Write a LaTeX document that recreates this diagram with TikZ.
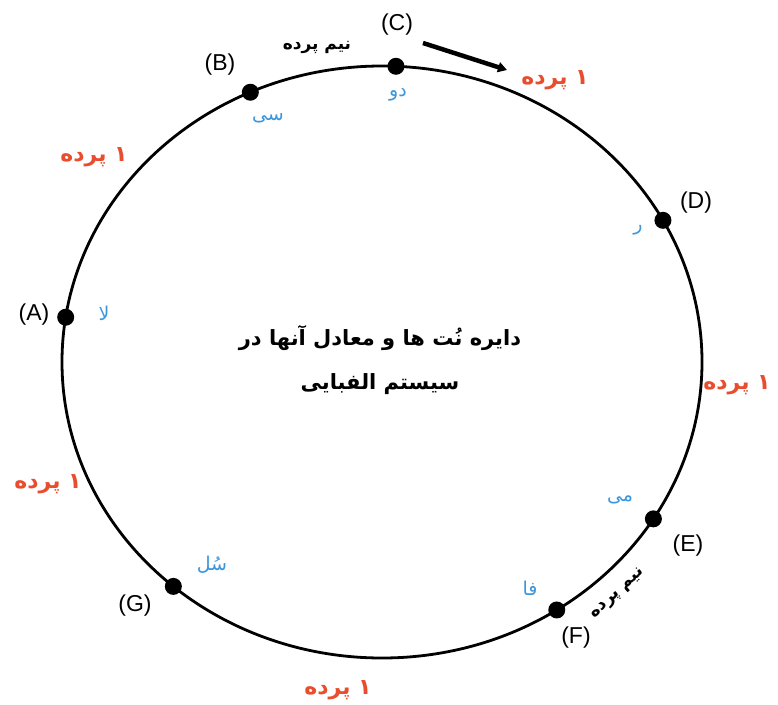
\documentclass[tikz,border=0pt]{standalone}
\usepackage{fontspec}
\setmainfont{Liberation Sans}
\newfontfamily\fa[Script=Arabic]{DejaVu Sans}
\TeXXeTstate=1
\usetikzlibrary{arrows.meta}
\definecolor{notecol}{RGB}{60,150,220}
\definecolor{stepcol}{RGB}{232,78,45}
\newcommand\myrtl[1]{\beginR #1\endR}
\tikzset{
  dot/.style={circle, fill=black, minimum size=17pt, inner sep=0pt},
  letter/.style={font=\fontsize{23}{23}\selectfont, inner sep=0pt},
  notename/.style={text=notecol, font=\fa\fontsize{19}{19}\selectfont, inner sep=0pt},
  tone/.style={text=stepcol, font=\fa\bfseries\fontsize{22}{22}\selectfont, inner sep=0pt},
  semi/.style={font=\fa\bfseries\fontsize{17}{17}\selectfont, inner sep=0pt},
  title/.style={font=\fa\bfseries\fontsize{21}{21}\selectfont, inner sep=0pt},
  ring/.style={line width=2.8pt}
}
\begin{document}
\begin{tikzpicture}[x=1pt,y=-1pt]
\useasboundingbox[fill=white] (0,0) rectangle (778,704);
\coordinate (ctr) at (382,362);
\draw[ring] (ctr) ellipse [x radius=320pt, y radius=296pt];
% dots on the circle
\node[dot] (A) at ([shift={(171.3:320pt and 296pt)}]ctr) {};
\node[dot] (B) at ([shift={(114.3:320pt and 296pt)}]ctr) {};
\node[dot] (C) at ([shift={(87.5:320pt and 296pt)}]ctr) {};
\node[dot] (D) at ([shift={(28.6:320pt and 296pt)}]ctr) {};
\node[dot] (E) at ([shift={(-32.0:320pt and 296pt)}]ctr) {};
\node[dot] (F) at ([shift={(-56.9:320pt and 296pt)}]ctr) {};
\node[dot] (G) at ([shift={(-130.7:320pt and 296pt)}]ctr) {};
% letter labels
\node[letter] (lA) at (34,315) {(A)};
\node[letter] (lB) at (220,65) {(B)};
\node[letter] (lC) at (397,25) {(C)};
\node[letter] (lD) at (696,203) {(D)};
\node[letter] (lE) at (688,546) {(E)};
\node[letter] (lF) at (576,638) {(F)};
\node[letter] (lG) at (135,606) {(G)};
% note names
\node[notename] (nB) at (268,118) {\myrtl{سی}};
\node[notename] (nC) at (398,95) {\myrtl{دو}};
\node[notename] (nD) at (638,230) {\myrtl{ر}};
\node[notename] (nA) at (104,313) {\myrtl{لا}};
\node[notename] (nE) at (620,500) {\myrtl{می}};
\node[notename] (nF) at (530,588) {\myrtl{فا}};
\node[notename] (nG) at (212,565) {\myrtl{سُل}};
% whole tones
\node[tone] (t1) at (555,80) {\myrtl{۱ پرده}};
\node[tone] (t2) at (94,157) {\myrtl{۱ پرده}};
\node[tone] (t3) at (737,385) {\myrtl{۱ پرده}};
\node[tone] (t4) at (48,484) {\myrtl{۱ پرده}};
\node[tone] (t5) at (338,690) {\myrtl{۱ پرده}};
% half tones
\node[semi] (s1) at (317,47) {\myrtl{نیم پرده}};
\node[semi, rotate=43] (s2) at (618,594) {\myrtl{نیم پرده}};
% title
\node[title] (ti1) at (380,338) {\myrtl{دایره نُت ها و معادل آنها در}};
\node[title] (ti2) at (380,384) {\myrtl{سیستم الفبایی}};
% arrow
\coordinate (arrS) at (423,43);
\coordinate (arrE) at (507,70);
\draw[line width=4.5pt, -{Triangle[length=9pt,width=10pt]}] (arrS) -- (arrE);
\end{tikzpicture}
\end{document}
